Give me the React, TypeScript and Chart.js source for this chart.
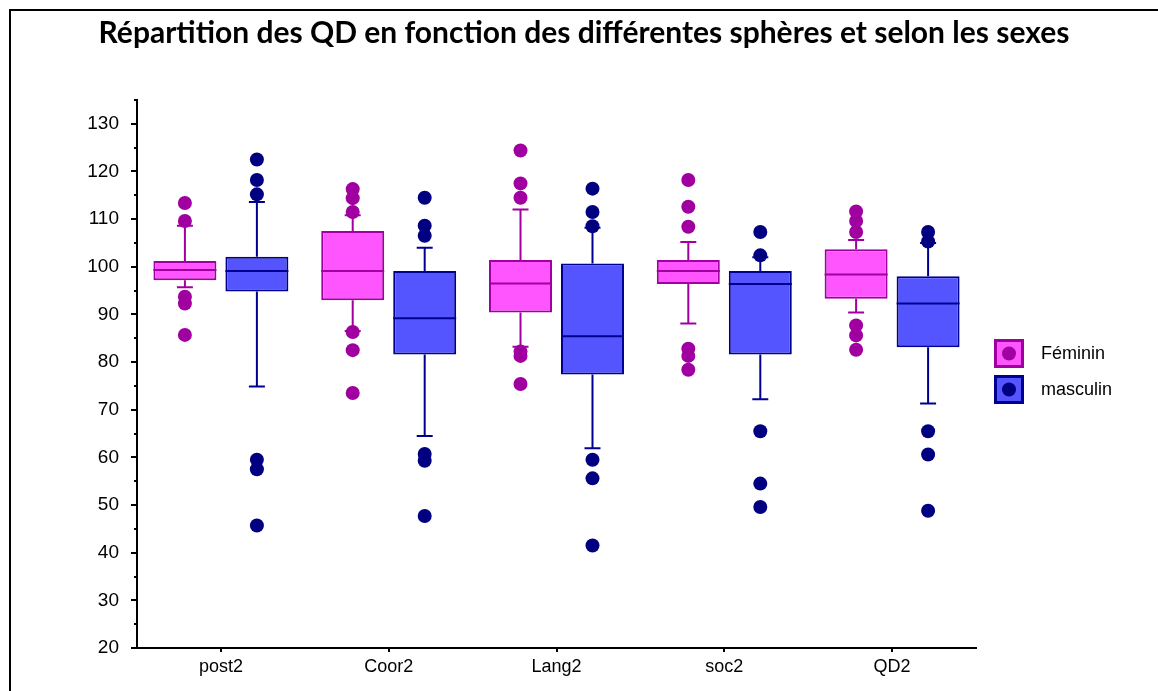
import React, { useEffect, useRef } from "react";
import { Chart, registerables } from "chart.js";

Chart.register(...registerables);

const titleText = "Répartition des QD en fonction des différentes sphères et selon les sexes";
const categories = ["post2", "Coor2", "Lang2", "soc2", "QD2"];
const seriesNames = ["Féminin", "masculin"];

// Féminin
const femLow = [95.7, 86.5, 83.2, 88.1, 90.4];
const femQ1 = [97.2, 93.0, 90.4, 96.4, 93.3];
const femMedian = [99.3, 99.1, 96.5, 99.1, 98.4];
const femQ3 = [101.2, 107.5, 101.4, 101.4, 103.7];
const femHigh = [108.6, 110.8, 112.0, 105.2, 105.6];
const femOutliers = [
  [113.4, 109.6, 93.7, 92.3, 85.7],
  [116.3, 114.4, 111.5, 86.3, 82.5, 73.5],
  [124.4, 117.5, 114.5, 82.2, 81.3, 75.4],
  [118.2, 112.6, 108.4, 82.8, 81.3, 78.4],
  [111.6, 109.6, 107.3, 87.7, 85.6, 82.6],
];

// masculin
const masLow = [74.9, 64.5, 61.9, 72.2, 71.3];
const masQ1 = [94.8, 81.6, 77.4, 81.6, 83.1];
const masMedian = [99.1, 89.2, 85.4, 96.4, 92.3];
const masQ3 = [102.1, 99.1, 100.7, 99.1, 98.0];
const masHigh = [113.6, 104.0, 108.2, 102.0, 105.0];
const masOutliers = [
  [122.5, 118.2, 115.2, 59.5, 57.5, 45.7],
  [114.5, 108.6, 106.5, 60.7, 59.3, 47.7],
  [116.4, 111.5, 108.5, 59.5, 55.6, 41.5],
  [107.3, 102.4, 65.5, 54.5, 49.6],
  [107.3, 105.3, 65.5, 60.6, 48.8],
];

const yMajorTicks = [20, 30, 40, 50, 60, 70, 80, 90, 100, 110, 120, 130];
const yMinorTicks = [25, 35, 45, 55, 65, 75, 85, 95, 105, 115, 125, 135];

const femFill = "#FF55FF";
const femBorder = "#A000A0";
const masFill = "#5555FF";
const masBorder = "#000090";

export default function App() {
  const ref = useRef<HTMLCanvasElement | null>(null);

  useEffect(() => {
    const canvas = ref.current;
    if (!canvas) return;

    const stats = [
      { low: femLow, high: femHigh, med: femMedian, out: femOutliers, border: femBorder, fill: femFill, dot: femBorder },
      { low: masLow, high: masHigh, med: masMedian, out: masOutliers, border: masBorder, fill: masFill, dot: "#000080" },
    ];

    const extras = {
      id: "boxExtras",
      beforeDraw(chart: any) {
        const ctx = chart.ctx;
        ctx.save();
        ctx.fillStyle = "#fff";
        ctx.fillRect(0, 0, chart.width, chart.height);
        ctx.fillStyle = "#000";
        ctx.fillRect(9, 9, chart.width, 2);
        ctx.fillRect(9, 9, 2, chart.height);
        ctx.restore();
      },
      afterDatasetsDraw(chart: any) {
        const ctx = chart.ctx;
        const ys = chart.scales.y;
        ctx.save();
        stats.forEach((s, di) => {
          const meta = chart.getDatasetMeta(di);
          meta.data.forEach((bar: any, i: number) => {
            const x = bar.x;
            const w = bar.width;
            const top = Math.min(bar.y, bar.base);
            const bot = Math.max(bar.y, bar.base);
            const yHigh = ys.getPixelForValue(s.high[i]);
            const yLow = ys.getPixelForValue(s.low[i]);
            const yMed = ys.getPixelForValue(s.med[i]);
            ctx.strokeStyle = s.border;
            ctx.lineWidth = 2;
            ctx.beginPath();
            ctx.moveTo(x, top);
            ctx.lineTo(x, yHigh);
            ctx.moveTo(x - 8, yHigh);
            ctx.lineTo(x + 8, yHigh);
            ctx.moveTo(x, bot);
            ctx.lineTo(x, yLow);
            ctx.moveTo(x - 8, yLow);
            ctx.lineTo(x + 8, yLow);
            ctx.moveTo(x - w / 2, yMed);
            ctx.lineTo(x + w / 2, yMed);
            ctx.stroke();
            ctx.fillStyle = s.dot;
            s.out[i].forEach((v: number) => {
              ctx.beginPath();
              ctx.arc(x, ys.getPixelForValue(v), 7, 0, Math.PI * 2);
              ctx.fill();
            });
          });
        });
        ctx.restore();
      },
      afterDraw(chart: any) {
        const ctx = chart.ctx;
        const ys = chart.scales.y;
        const xs = chart.scales.x;
        const area = chart.chartArea;
        ctx.save();
        ctx.strokeStyle = "#000";
        ctx.lineWidth = 2;
        ctx.beginPath();
        yMajorTicks.forEach((v) => {
          const py = Math.round(ys.getPixelForValue(v));
          ctx.moveTo(area.left - 6, py);
          ctx.lineTo(area.left, py);
        });
        yMinorTicks.forEach((v) => {
          const py = Math.round(ys.getPixelForValue(v));
          ctx.moveTo(area.left - 3, py);
          ctx.lineTo(area.left, py);
        });
        categories.forEach((_, i) => {
          const px = Math.round(xs.getPixelForValue(i));
          ctx.moveTo(px, area.bottom);
          ctx.lineTo(px, area.bottom + 4);
        });
        ctx.stroke();

        // title
        ctx.fillStyle = "#000";
        ctx.font = 'bold 30px Lato, "Liberation Sans", sans-serif';
        ctx.textAlign = "center";
        ctx.textBaseline = "alphabetic";
        ctx.fillText(titleText, 584, 43);

        // legend
        const lx = area.right + 18;
        const cy = (area.top + area.bottom) / 2 - 2;
        stats.forEach((s, i) => {
          const sy = cy - 33 + i * 36;
          ctx.fillStyle = s.fill;
          ctx.fillRect(lx, sy, 30, 29);
          ctx.strokeStyle = s.border;
          ctx.lineWidth = 3;
          ctx.strokeRect(lx + 1.5, sy + 1.5, 27, 26);
          ctx.fillStyle = s.dot;
          ctx.beginPath();
          ctx.arc(lx + 15, sy + 14.5, 7, 0, Math.PI * 2);
          ctx.fill();
          ctx.fillStyle = "#000";
          ctx.font = '18px "Liberation Sans", Arial, sans-serif';
          ctx.textBaseline = "middle";
          ctx.textAlign = "left";
          ctx.fillText(seriesNames[i], lx + 47, sy + 15);
        });
        ctx.restore();
      },
    };

    const chart = new Chart(canvas, {
      type: "bar",
      data: {
        labels: categories,
        datasets: [
          {
            label: seriesNames[0],
            data: femQ1.map((q, i) => [q, femQ3[i]]) as any,
            backgroundColor: femFill,
            borderColor: femBorder,
            borderWidth: 2,
            borderSkipped: false,
          },
          {
            label: seriesNames[1],
            data: masQ1.map((q, i) => [q, masQ3[i]]) as any,
            backgroundColor: masFill,
            borderColor: masBorder,
            borderWidth: 2,
            borderSkipped: false,
          },
        ],
      },
      options: {
        responsive: false,
        animation: false,
        devicePixelRatio: 1,
        categoryPercentage: 0.858,
        barPercentage: 0.875,
        layout: { padding: { left: 0, right: 182, top: 100, bottom: 0 } },
        plugins: {
          legend: { display: false },
          tooltip: { enabled: false },
          title: { display: false },
        },
        scales: {
          x: {
            type: "category",
            grid: { display: false },
            border: { display: true, color: "#000", width: 2 },
            ticks: {
              color: "#000",
              padding: 0,
              font: { family: "Liberation Sans", size: 18 },
            },
            afterFit: (scale: any) => {
              scale.height = 43;
            },
          },
          y: {
            type: "linear",
            min: 20,
            max: 135,
            grid: { display: false },
            border: { display: true, color: "#000", width: 2 },
            ticks: {
              color: "#000",
              padding: 10,
              font: { family: "Liberation Sans", size: 19 },
              callback: (v: any) => String(v),
            },
            afterBuildTicks: (scale: any) => {
              scale.ticks = yMajorTicks.map((v) => ({ value: v }));
            },
            afterFit: (scale: any) => {
              scale.width = 137;
            },
          },
        },
      },
      plugins: [extras],
    } as any);

    return () => chart.destroy();
  }, []);

  return (
    <div style={{ position: "absolute", left: 0, top: 0, width: 1158, height: 691 }}>
      <canvas ref={ref} width={1158} height={691} style={{ display: "block" }} />
    </div>
  );
}
